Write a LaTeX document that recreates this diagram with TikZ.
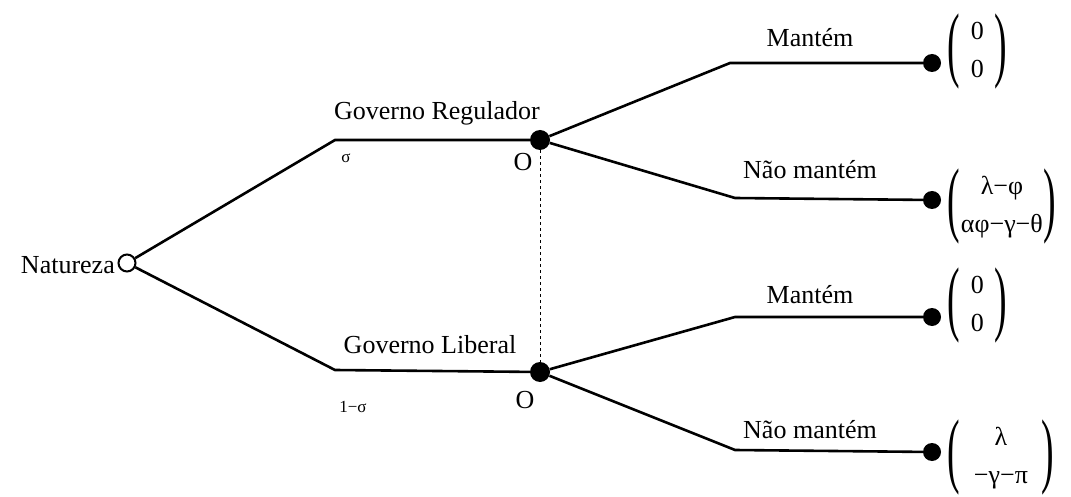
\documentclass[tikz,border=0pt]{standalone}
\usepackage{fontspec}
\setmainfont{Liberation Serif}
\usepackage{array}
\newcommand{\lpar}{\vcenter{\hbox{\scalebox{1.45}[3.2]{(}}}}
\newcommand{\rpar}{\vcenter{\hbox{\scalebox{1.45}[3.2]{)}}}}
\newcommand{\vect}[3][2pt]{$\lpar\vcenter{\hbox{\renewcommand{\arraystretch}{1.28}\begin{tabular}{@{\hspace{#1}}c@{\hspace{#1}}}#2\\#3\end{tabular}}}\rpar$}
\begin{document}
\begin{tikzpicture}[x=1pt,y=-1pt,
  every node/.style={font=\fontsize{26}{30}\selectfont},
  branch/.style={line width=2.6pt},
  chance/.style={circle,draw,line width=2pt,fill=white,minimum size=17pt,inner sep=0pt},
  decision/.style={circle,fill=black,minimum size=20pt,inner sep=0pt},
  term/.style={circle,fill=black,minimum size=18pt,inner sep=0pt},
  small/.style={font=\fontsize{17}{20}\selectfont},
  payoff/.style={anchor=west,inner sep=0pt}]
\useasboundingbox (0,0) rectangle (1071,497);
% nodes
\node[chance] (nat) at (127,263) {};
\node[anchor=east,inner sep=0pt] (natl) at (115,265) {Natureza};
\coordinate (ua) at (335,140);
\coordinate (la) at (335,370);
\node[decision] (g1) at (540,140) {};
\node[decision] (g2) at (540,372) {};
\coordinate (m1) at (730,63);
\coordinate (n1) at (735,198);
\coordinate (m2) at (735,317);
\coordinate (n2) at (735,450);
\node[term] (t1) at (932,63) {};
\node[term] (t2) at (932,200) {};
\node[term] (t3) at (932,317) {};
\node[term] (t4) at (932,452) {};
% connectors
\draw[branch] (nat) -- (ua) -- (g1);
\draw[branch] (nat) -- (la) -- (g2);
\draw[dashed,line width=0.8pt] (g1) -- (g2);
\draw[branch] (g1) -- (m1) -- (t1);
\draw[branch] (g1) -- (n1) -- (t2);
\draw[branch] (g2) -- (m2) -- (t3);
\draw[branch] (g2) -- (n2) -- (t4);
% labels
\node (lgr) at (437,113) {Governo Regulador};
\node (lgl) at (430,345) {Governo Liberal};
\node[small] (ls) at (346,158) {σ};
\node[small] (l1s) at (353,407) {1−σ};
\node (o1) at (523,162) {O};
\node (o2) at (525,400) {O};
\node (lm1) at (810,38) {Mantém};
\node (ln1) at (810,170) {Não mantém};
\node (lm2) at (810,295) {Mantém};
\node (ln2) at (810,430) {Não mantém};
% payoffs
\node[payoff] (p1) at ([xshift=6pt,yshift=12pt]t1.east) {\vect[11pt]{0}{0}};
\node[payoff] (p2) at ([xshift=6pt,yshift=-6pt]t2.east) {\vect[1pt]{λ−φ}{αφ−γ−θ}};
\node[payoff] (p3) at ([xshift=6pt,yshift=12pt]t3.east) {\vect[11pt]{0}{0}};
\node[payoff] (p4) at ([xshift=6pt,yshift=-5pt]t4.east) {\vect[14pt]{λ}{−γ−π}};
\end{tikzpicture}
\end{document}
